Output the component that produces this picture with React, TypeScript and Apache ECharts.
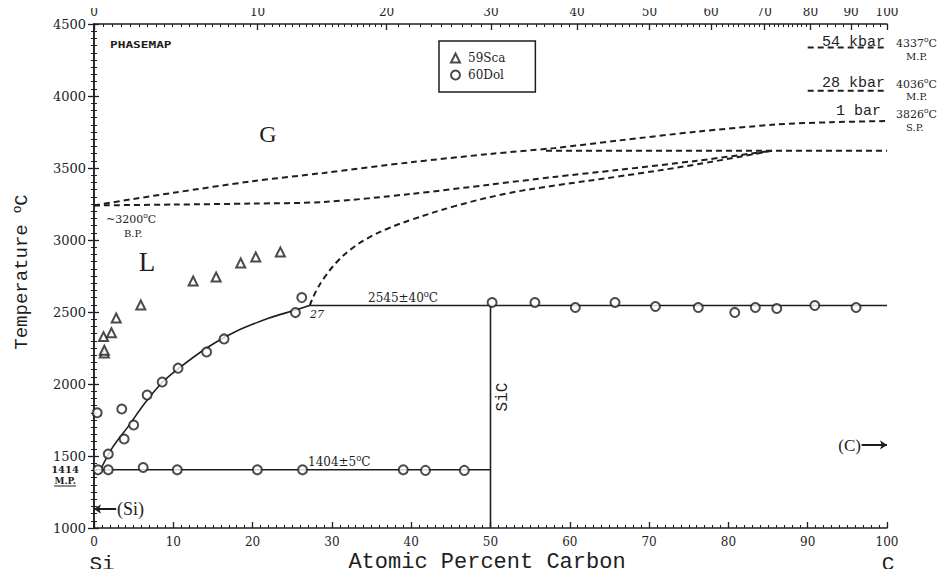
import React, { useEffect, useRef } from 'react';
import * as echarts from 'echarts';

// ---------- data (atomic % C, temperature °C) ----------
const bottomTicks = [0, 10, 20, 30, 40, 50, 60, 70, 80, 90, 100];
const topWtLabels = [0, 10, 20, 30, 40, 50, 60, 70, 80, 90, 100];
const tempTicks = [1000, 1500, 2000, 2500, 3000, 3500, 4000, 4500];

const liquidusSi = [[0.9, 1414], [2.4, 1565], [4.3, 1704], [6.4, 1866], [8.6, 2010], [10.6, 2105], [14.2, 2250], [17.7, 2360], [22, 2456], [25.5, 2515], [27.2, 2545]];
const eutecticSi = [[0, 1404], [50, 1404]];
const sicLine = [[50, 1000], [50, 2545]];
const peritecticLine = [[27.2, 2545], [100, 2545]];
const gasUpper = [[0, 3240], [5, 3285], [10, 3328], [20, 3408], [29, 3466], [40, 3540], [50, 3598], [58, 3638], [66, 3690], [76, 3752], [86, 3802], [93, 3818], [100, 3826]];
const gasMiddle = [[0, 3240], [10, 3246], [20, 3253], [29, 3264], [40, 3320], [50, 3385], [58, 3438], [66, 3486], [76, 3550], [85.5, 3620]];
const liquidusC = [[27.2, 2545], [28, 2645], [29, 2735], [30.5, 2840], [32.3, 2932], [34.5, 3012], [37, 3078], [40, 3140], [45.5, 3235], [52, 3322], [58.6, 3382], [66, 3440], [76, 3525], [85.5, 3620]];
const decompLine = [[57, 3620], [100, 3620]];
const mp54kbar = [[90, 4337], [100, 4337]];
const mp28kbar = [[90, 4036], [100, 4036]];

const sca59 = [[1.3, 2215], [1.3, 2235], [1.2, 2329], [2.2, 2356], [2.8, 2458], [5.9, 2549], [12.5, 2715], [15.4, 2743], [18.5, 2840], [20.4, 2882], [23.5, 2917]];
const dol60 = [
  [0.4, 1800], [1.8, 1514], [3.8, 1618], [5.0, 1715], [3.5, 1826], [6.7, 1924], [8.6, 2014], [10.6, 2110], [14.2, 2222], [16.4, 2313], [25.4, 2496], [26.2, 2600],
  [0.5, 1404], [1.8, 1404], [6.2, 1420], [10.5, 1404], [20.6, 1404], [26.3, 1404], [39.0, 1404], [41.8, 1400], [46.7, 1400],
  [50.2, 2566], [55.6, 2566], [60.7, 2531], [65.7, 2566], [70.8, 2538], [76.2, 2531], [80.8, 2497], [83.4, 2531], [86.1, 2524], [90.9, 2545], [96.1, 2531],
];
const siArrow = [[2.8, 1132], [0, 1132]];
const cArrow = [[96.8, 1577], [100, 1577]];

// weight % <-> atomic % conversion for the top axis
const MC = 12.011, MSI = 28.086;
const atFromWt = (w: number) => (w / MC) / (w / MC + (100 - w) / MSI) * 100;
const wtFromAt = (a: number) => (a * MC) / (a * MC + (100 - a) * MSI) * 100;
const topMinorWt: number[] = [];
for (let w = 0; w <= 100; ) { topMinorWt.push(w); w += w < 20 ? 0.5 : w < 80 ? 1 : 2; }

const INK = '#1e1e1e';

function txt(text: string, x: number, y: number, style: any, extra: any = {}) {
  return { type: 'text', x, y, silent: true, ...extra, style: { text, fill: INK, verticalAlign: 'middle', ...style } };
}
const sup = (size: number) => ({ sup: { fontSize: size, padding: [0, 0, Math.round(size * 0.9), 0], fill: INK } });

export default function App() {
  const ref = useRef<HTMLDivElement>(null);
  useEffect(() => {
    if (!ref.current) return;
    const chart = echarts.init(ref.current, null, { renderer: 'svg' });
    const axisLine = { show: true, lineStyle: { color: INK, width: 1.5 } };
    const serif = 'DejaVu Serif';
    const dashed = { color: INK, width: 2, type: [6, 4] as any };
    const solid = { color: INK, width: 1.6 };
    const lineSeries = (name: string, data: number[][], style: any, smooth: any = false) => ({
      type: 'line', name, data, showSymbol: false, symbol: 'none', smooth, lineStyle: style, silent: true, z: 2,
    });
    const topMajor = topWtLabels.map(atFromWt);
    const topMinor = topMinorWt.map(atFromWt);

    chart.setOption({
      animation: false,
      backgroundColor: '#fff',
      grid: { left: 94, right: 64, top: 24, bottom: 49, containLabel: false },
      legend: {
        data: ['59Sca', '60Dol'],
        left: 439, top: 41, orient: 'vertical',
        padding: [11, 30, 11, 11], itemGap: 5, itemWidth: 9, itemHeight: 9,
        borderColor: INK, borderWidth: 1.5,
        textStyle: { fontFamily: serif, fontSize: 12, color: INK, padding: [0, 0, 0, 3] },
      },
      xAxis: [
        {
          type: 'value', position: 'bottom', min: 0, max: 100, interval: 10,
          axisLine, splitLine: { show: false },
          axisTick: { show: true, inside: true, length: 6, customValues: bottomTicks, lineStyle: { color: INK, width: 1.3 } },
          minorTick: { show: true, splitNumber: 10, length: 3, lineStyle: { color: INK, width: 1 } },
          axisLabel: { fontFamily: serif, fontSize: 12, color: INK, margin: 8, customValues: bottomTicks },
        },
        {
          type: 'value', position: 'top', min: 0, max: 100,
          axisLine, splitLine: { show: false },
          axisTick: { show: true, inside: true, length: 6, customValues: topMajor, lineStyle: { color: INK, width: 1.3 } },
          axisLabel: {
            customValues: topMajor, fontFamily: serif, fontSize: 12, color: INK, margin: 6,
            formatter: (v: number) => String(Math.round(wtFromAt(v))),
          },
        },
        {
          type: 'value', position: 'top', min: 0, max: 100,
          axisLine: { show: false }, splitLine: { show: false },
          axisTick: { show: true, inside: true, length: 3, customValues: topMinor, lineStyle: { color: INK, width: 1 } },
          axisLabel: { show: false },
        },
      ],
      yAxis: [
        {
          type: 'value', position: 'left', min: 1000, max: 4500, interval: 500,
          axisLine, splitLine: { show: false },
          axisTick: { show: true, length: 6, lineStyle: { color: INK, width: 1.3 } },
          minorTick: { show: true, splitNumber: 10, length: 3, lineStyle: { color: INK, width: 1 } },
          axisLabel: { fontFamily: serif, fontSize: 13, color: INK, margin: 8, customValues: tempTicks, formatter: (v: number) => String(v) },
        },
        {
          type: 'value', position: 'right', min: 1000, max: 4500, interval: 500,
          axisLine, splitLine: { show: false },
          axisTick: { show: true, length: 5, lineStyle: { color: INK, width: 1.3 } },
          minorTick: { show: true, splitNumber: 10, length: 3, lineStyle: { color: INK, width: 1 } },
          axisLabel: { show: false },
        },
      ],
      series: [
        lineSeries('liquidusSi', liquidusSi, solid, 0.35),
        lineSeries('eutecticSi', eutecticSi, solid),
        lineSeries('sic', sicLine, solid),
        lineSeries('peritectic', peritecticLine, solid),
        lineSeries('gasUpper', gasUpper, dashed, 0.3),
        lineSeries('gasMiddle', gasMiddle, dashed, 0.3),
        lineSeries('liquidusC', liquidusC, dashed, 0.4),
        lineSeries('decomp', decompLine, dashed),
        lineSeries('mp54', mp54kbar, dashed),
        lineSeries('mp28', mp28kbar, dashed),
        {
          type: 'lines', coordinateSystem: 'cartesian2d', silent: true,
          symbol: ['none', 'arrow'], symbolSize: 7,
          lineStyle: { color: INK, width: 2, opacity: 1 },
          data: [{ coords: siArrow }, { coords: cArrow }],
        },
        {
          type: 'scatter', name: '59Sca', data: sca59, symbol: 'emptyTriangle', symbolSize: 9,
          itemStyle: { color: INK, borderColor: INK, borderWidth: 1.3 }, z: 3,
        },
        {
          type: 'scatter', name: '60Dol', data: dol60, symbol: 'emptyCircle', symbolSize: 9,
          itemStyle: { color: INK, borderColor: INK, borderWidth: 1.6 }, z: 3,
        },
      ],
      graphic: [
        txt('PHASEMAP', 110, 45, { fontFamily: 'DejaVu Sans Mono', fontWeight: 'bold', fontSize: 8 }, { scaleX: 1.6 }),
        txt('G', 268, 134, { fontFamily: 'Liberation Serif', fontSize: 24, align: 'center' }),
        txt('L', 147, 262, { fontFamily: 'Liberation Serif', fontSize: 27, align: 'center' }),
        txt('~3200{sup|o}C', 106, 219, { fontFamily: serif, fontSize: 11, rich: sup(8) }),
        txt('B.P.', 124, 233, { fontFamily: serif, fontSize: 10 }),
        txt('27', 310, 314, { fontFamily: serif, fontSize: 11, fontStyle: 'italic' }),
        txt('2545±40{sup|o}C', 368, 298, { fontFamily: serif, fontSize: 12, rich: sup(9) }),
        txt('1404±5{sup|o}C', 308, 462, { fontFamily: serif, fontSize: 12, rich: sup(9) }),
        txt('SiC', 0, 0, { fontFamily: 'Liberation Mono', fontSize: 16, align: 'center' }, { x: 503, y: 397, rotation: Math.PI / 2 }),
        txt('1414', 79, 469, { fontFamily: serif, fontSize: 10, fontWeight: 'bold', align: 'right' }),
        txt('M.P.', 76, 481, { fontFamily: serif, fontSize: 9, fontWeight: 'bold', align: 'right' }),
        { type: 'line', silent: true, shape: { x1: 54, y1: 486, x2: 76, y2: 486 }, style: { stroke: INK, lineWidth: 1 } },
        txt('(Si)', 117, 509, { fontFamily: 'Liberation Serif', fontSize: 18 }),
        txt('(C)', 861, 445, { fontFamily: 'Liberation Serif', fontSize: 17, align: 'right' }),
        txt('54 kbar', 885, 42, { fontFamily: 'Liberation Mono', fontSize: 15, align: 'right' }),
        txt('28 kbar', 885, 83, { fontFamily: 'Liberation Mono', fontSize: 15, align: 'right' }),
        txt('1 bar', 881, 111, { fontFamily: 'Liberation Mono', fontSize: 15, align: 'right' }),
        txt('4337{sup|o}C', 896, 43, { fontFamily: serif, fontSize: 11, rich: sup(8) }),
        txt('M.P.', 906, 56, { fontFamily: serif, fontSize: 10 }),
        txt('4036{sup|o}C', 896, 84, { fontFamily: serif, fontSize: 11, rich: sup(8) }),
        txt('M.P.', 906, 96, { fontFamily: serif, fontSize: 10 }),
        txt('3826{sup|o}C', 896, 114, { fontFamily: serif, fontSize: 11, rich: sup(8) }),
        txt('S.P.', 906, 127, { fontFamily: serif, fontSize: 10 }),
        txt('Temperature {sup|o}C', 0, 0, { fontFamily: 'Liberation Mono', fontSize: 19, align: 'center', rich: { sup: { fontSize: 13, padding: [0, 0, 12, 0], fill: INK } } }, { x: 22, y: 272, rotation: Math.PI / 2 }),
        txt('Atomic Percent Carbon', 487, 562, { fontFamily: 'Liberation Mono', fontSize: 22, align: 'center' }),
        txt('Si', 102, 564, { fontFamily: 'Liberation Mono', fontSize: 21, align: 'center' }),
        txt('C', 888, 564, { fontFamily: 'Liberation Mono', fontSize: 21, align: 'center' }),
      ],
    });
    return () => chart.dispose();
  }, []);
  return <div ref={ref} style={{ width: 951, height: 577, margin: -8 }} />;
}
